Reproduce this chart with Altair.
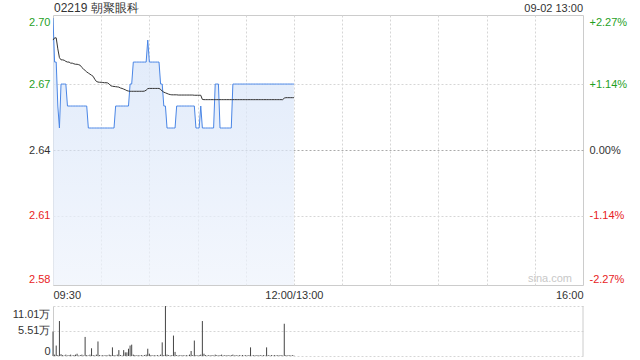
import altair as alt
import pandas as pd

# ---------------- data ----------------
title_left = "02219 朝聚眼科"
title_right = "09-02 13:00"
watermark = "sina.com"

minutes = list(range(151))  # 09:30 .. 12:00, one point per minute

price = [
    2.70, 2.68, 2.68, 2.66, 2.65, 2.67, 2.67, 2.67, 2.67, 2.66,
    2.66, 2.66, 2.66, 2.66, 2.66, 2.66, 2.66, 2.66, 2.66, 2.66,
    2.66, 2.66, 2.65, 2.65, 2.65, 2.65, 2.65, 2.65, 2.65, 2.65,
    2.65, 2.65, 2.65, 2.65, 2.65, 2.65, 2.65, 2.65, 2.65, 2.66,
    2.66, 2.66, 2.66, 2.66, 2.66, 2.66, 2.66, 2.66, 2.67, 2.67,
    2.68, 2.68, 2.68, 2.68, 2.68, 2.68, 2.68, 2.68, 2.68, 2.69,
    2.68, 2.68, 2.68, 2.68, 2.68, 2.68, 2.68, 2.67, 2.67, 2.66,
    2.66, 2.65, 2.65, 2.65, 2.65, 2.65, 2.65, 2.66, 2.66, 2.66,
    2.66, 2.66, 2.66, 2.66, 2.66, 2.66, 2.66, 2.66, 2.66, 2.65,
    2.65, 2.65, 2.66, 2.65, 2.65, 2.65, 2.65, 2.65, 2.65, 2.65,
    2.65, 2.67, 2.67, 2.67, 2.65, 2.65, 2.65, 2.65, 2.65, 2.65,
    2.65, 2.65, 2.67, 2.67, 2.67, 2.67, 2.67, 2.67, 2.67, 2.67,
    2.67, 2.67, 2.67, 2.67, 2.67, 2.67, 2.67, 2.67, 2.67, 2.67,
    2.67, 2.67, 2.67, 2.67, 2.67, 2.67, 2.67, 2.67, 2.67, 2.67,
    2.67, 2.67, 2.67, 2.67, 2.67, 2.67, 2.67, 2.67, 2.67, 2.67,
    2.67,
]

avg_price = [
    2.6900, 2.6910, 2.6910, 2.6860, 2.6820, 2.6810, 2.6810, 2.6808, 2.6803, 2.6800,
    2.6800, 2.6795, 2.6795, 2.6792, 2.6790, 2.6790, 2.6788, 2.6785, 2.6775, 2.6768,
    2.6762, 2.6755, 2.6750, 2.6745, 2.6740, 2.6735, 2.6722, 2.6712, 2.6709, 2.6708,
    2.6708, 2.6707, 2.6706, 2.6706, 2.6705, 2.6700, 2.6692, 2.6690, 2.6689, 2.6688,
    2.6687, 2.6686, 2.6682, 2.6680, 2.6677, 2.6674, 2.6670, 2.6668, 2.6667, 2.6667,
    2.6667, 2.6667, 2.6667, 2.6667, 2.6667, 2.6667, 2.6667, 2.6668, 2.6672, 2.6679,
    2.6680, 2.6680, 2.6680, 2.6680, 2.6680, 2.6680, 2.6680, 2.6676, 2.6668, 2.6663,
    2.6660, 2.6657, 2.6654, 2.6652, 2.6651, 2.6651, 2.6651, 2.6651, 2.6650, 2.6650,
    2.6650, 2.6650, 2.6650, 2.6650, 2.6650, 2.6650, 2.6650, 2.6650, 2.6649, 2.6649,
    2.6649, 2.6649, 2.6649, 2.6630, 2.6629, 2.6629, 2.6629, 2.6629, 2.6629, 2.6629,
    2.6629, 2.6629, 2.6629, 2.6629, 2.6629, 2.6629, 2.6629, 2.6629, 2.6629, 2.6629,
    2.6629, 2.6629, 2.6629, 2.6629, 2.6629, 2.6629, 2.6629, 2.6629, 2.6629, 2.6629,
    2.6629, 2.6629, 2.6629, 2.6629, 2.6629, 2.6629, 2.6629, 2.6629, 2.6629, 2.6629,
    2.6629, 2.6629, 2.6629, 2.6629, 2.6629, 2.6629, 2.6629, 2.6629, 2.6629, 2.6629,
    2.6629, 2.6629, 2.6629, 2.6629, 2.6636, 2.6638, 2.6638, 2.6638, 2.6638, 2.6638,
    2.6638,
]

# volume per minute, in 万 shares
volume = [
    5.4, 0.3, 2.3, 0.2, 7.7, 0.4, 0.2, 0.1, 0.3, 0.1,
    0.2, 0.3, 0.1, 0.2, 0.3, 0.5, 0.1, 0.2, 0.3, 0.1,
    4.2, 0.2, 0.1, 0.3, 1.7, 0.2, 0.1, 0.3, 3.2, 0.2,
    0.1, 0.2, 0.1, 0.2, 0.1, 0.3, 0.2, 1.9, 0.2, 0.1,
    0.3, 1.3, 0.2, 0.1, 1.3, 0.8, 0.8, 1.6, 2.3, 2.5,
    0.3, 0.2, 0.1, 0.2, 0.1, 0.2, 0.1, 0.2, 0.3, 1.6,
    0.5, 0.2, 0.1, 0.2, 0.1, 0.2, 0.1, 0.3, 3.0, 0.2,
    11.01, 0.3, 0.2, 0.1, 0.2, 4.5, 0.9, 0.2, 0.1, 0.2,
    0.1, 0.2, 0.1, 0.2, 0.1, 0.3, 1.1, 0.2, 3.4, 0.2,
    0.1, 0.2, 0.3, 7.7, 0.5, 0.2, 0.1, 0.2, 0.1, 0.2,
    0.1, 0.3, 0.2, 0.1, 0.2, 0.3, 0.1, 0.2, 0.1, 0.2,
    0.1, 0.2, 0.3, 0.1, 0.2, 0.1, 0.2, 0.1, 0.2, 0.1,
    0.2, 0.1, 0.2, 1.9, 0.1, 0.2, 0.1, 0.2, 0.1, 0.2,
    0.1, 0.2, 0.1, 1.9, 0.2, 0.1, 0.2, 0.1, 0.2, 0.1,
    0.2, 0.1, 0.2, 0.1, 7.1, 0.2, 0.1, 0.2, 0.1, 0.2,
    0.1,
]

x_ticks = [0, 30, 60, 90, 120, 150, 180, 210, 240, 270, 300, 330]
x_labels = {0: "09:30", 150: "12:00/13:00", 330: "16:00"}
price_ticks = [2.58, 2.61, 2.64, 2.67, 2.70]
prev_close = 2.64
price_domain = [2.5786, 2.7014]
vol_ticks = [0, 5.51, 11.01]

# ---------------- styling ----------------
FONT = "Liberation Sans"
GREEN = "#1f9f1f"
RED = "#e8231e"
TEXT = "#333333"
FRAME = "#cccccc"
GRID = "#d6d6d6"
BLUE = "#4a86e6"

df = pd.DataFrame({"m": minutes, "price": price, "avg": avg_price, "vol": volume})

xscale = alt.Scale(domain=[0, 330], nice=False, zero=False)
yscale = alt.Scale(domain=price_domain, nice=False, zero=False)

x_label_expr = " : ".join(
    f"datum.value == {k} ? '{v}'" for k, v in x_labels.items()
) + " : ''"

x_axis = alt.Axis(
    values=x_ticks, labelExpr=x_label_expr, labelFlush=True, ticks=False,
    domain=False, grid=True, gridDash=[2, 2], gridColor=GRID,
    gridOpacity=alt.expr("datum.value == 0 || datum.value == 330 ? 0 : 1"),
    labelPadding=4, labelFontSize=11, labelColor=TEXT, labelFont=FONT, title=None,
)

color_expr = (
    f"datum.value > {prev_close} + 0.005 ? '{GREEN}' : "
    f"datum.value < {prev_close} - 0.005 ? '{RED}' : '{TEXT}'"
)
flush_offset = "datum.value > 2.695 ? 4 : datum.value < 2.585 ? -2 : 0"

left_axis = alt.Axis(
    values=price_ticks, format=".2f", ticks=False, domain=False, grid=True,
    gridDash=[2, 2],
    gridColor=alt.expr(f"abs(datum.value - {prev_close}) < 0.001 ? '#aaaaaa' : '{GRID}'"),
    gridOpacity=alt.expr("datum.value > 2.695 || datum.value < 2.585 ? 0 : 1"),
    labelColor=alt.expr(color_expr), labelOffset=alt.expr(flush_offset),
    labelPadding=3, labelFontSize=11, labelFont=FONT, title=None,
)

pct_expr = (
    f"abs(datum.value - {prev_close}) < 0.001 ? '0.00%' : "
    f"(datum.value > {prev_close} ? '+' : '-') + "
    f"format(abs(datum.value / {prev_close} - 1) * 100, '.2f') + '%'"
)
right_axis = alt.Axis(
    orient="right", values=price_ticks, labelExpr=pct_expr, ticks=False,
    domain=False, grid=False, labelColor=alt.expr(color_expr),
    labelOffset=alt.expr(flush_offset), labelPadding=6, labelFontSize=11,
    labelFont=FONT, title=None,
)

base = alt.Chart(df)

area = base.mark_area(
    interpolate="linear",
    clip=True,
    line={"color": BLUE, "strokeWidth": 1},
    color=alt.Gradient(
        gradient="linear",
        stops=[alt.GradientStop(color="#d2e1f8", offset=0),
               alt.GradientStop(color="#eef3fc", offset=1)],
        x1=1, x2=1, y1=0, y2=1,
    ),
).encode(
    x=alt.X("m:Q", scale=xscale, axis=x_axis),
    y=alt.Y("price:Q", scale=yscale, axis=left_axis),
    y2=alt.datum(price_domain[0]),
)

avg_line = base.mark_line(color="#333333", strokeWidth=1).encode(
    x=alt.X("m:Q", scale=xscale, axis=x_axis),
    y=alt.Y("avg:Q", scale=yscale, axis=right_axis),
)

t_left = alt.Chart(pd.DataFrame({"t": [title_left]})).mark_text(
    align="left", baseline="alphabetic", fontSize=12, font=FONT, color=TEXT
).encode(text="t:N", x=alt.value(1), y=alt.value(-3))

t_right = alt.Chart(pd.DataFrame({"t": [title_right]})).mark_text(
    align="right", baseline="alphabetic", fontSize=11, font=FONT, color=TEXT
).encode(text="t:N", x=alt.value(530), y=alt.value(-3))

t_mark = alt.Chart(pd.DataFrame({"t": [watermark]})).mark_text(
    align="right", baseline="middle", fontSize=11, font=FONT, color="#c8c8c8"
).encode(text="t:N", x=alt.value(519), y=alt.value(264))

price_chart = alt.layer(area, avg_line, t_left, t_right, t_mark).resolve_axis(
    y="independent"
).properties(
    width=530, height=270,
    view=alt.ViewBackground(stroke=FRAME, strokeWidth=1),
)

vol_axis = alt.Axis(
    values=vol_ticks,
    labelExpr="datum.value == 0 ? '0' : format(datum.value, '.2f') + '万'",
    labelFlush=True, ticks=False, domain=True, domainColor=FRAME, grid=True,
    gridDash=[2, 2], gridColor=GRID, labelPadding=3, labelFontSize=11,
    labelColor=TEXT, labelFont=FONT, title=None,
    labelOffset=alt.expr("datum.value > 11 ? 2 : 0"),
)

bars = base.mark_rule(color="#444444", strokeWidth=1).encode(
    x=alt.X("m:Q", scale=xscale, axis=None),
    y=alt.Y("vol:Q", scale=alt.Scale(domain=[0, 11.01], nice=False), axis=vol_axis),
    y2=alt.datum(0),
)

right_border = alt.Chart(pd.DataFrame({"x": [330]})).mark_rule(
    color=FRAME, strokeWidth=1
).encode(x=alt.X("x:Q", scale=xscale, axis=None))

vol_chart = alt.layer(bars, right_border).properties(width=530, height=50)

chart = alt.vconcat(price_chart, vol_chart, spacing=21, bounds="flush").properties(
    padding={"left": 12, "top": 1, "right": 0, "bottom": 4},
    background="white",
).configure_view(stroke=None)

chart.save("out.html", embed_options={"renderer": "svg", "actions": False})
